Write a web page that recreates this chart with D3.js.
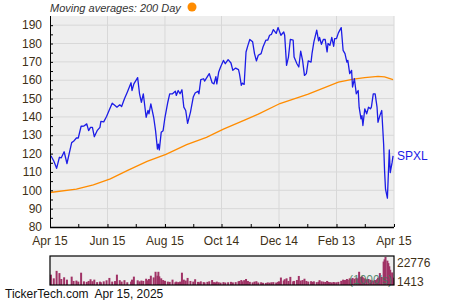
<!DOCTYPE html>
<html>
<head>
<meta charset="utf-8">
<script src="https://cdn.jsdelivr.net/npm/d3@7"></script>
<style>
  body { margin: 0; background: #fff; }
  svg { display: block; font-family: "Liberation Sans", Arial, sans-serif; }
</style>
</head>
<body>
<svg id="chart"></svg>
<script>
// SPXL closes
const priceDates = [
  "2024-04-16","2024-04-19","2024-04-22","2024-04-25","2024-04-27","2024-04-30","2024-05-03","2024-05-08",
  "2024-05-10","2024-05-13","2024-05-15","2024-05-18","2024-05-21","2024-05-24","2024-05-26","2024-05-28",
  "2024-05-30","2024-06-01","2024-06-04","2024-06-07","2024-06-08","2024-06-11","2024-06-14","2024-06-17",
  "2024-06-20","2024-06-23","2024-06-25","2024-06-28","2024-06-30","2024-07-03","2024-07-06","2024-07-10",
  "2024-07-11","2024-07-13","2024-07-17","2024-07-19","2024-07-21","2024-07-23","2024-07-26","2024-07-28",
  "2024-07-29","2024-07-31","2024-08-03","2024-08-05","2024-08-07","2024-08-08","2024-08-09","2024-08-11",
  "2024-08-13","2024-08-15","2024-08-18","2024-08-20","2024-08-23","2024-08-26","2024-08-27","2024-08-29",
  "2024-08-31","2024-09-02","2024-09-04","2024-09-06","2024-09-08","2024-09-11","2024-09-14","2024-09-16",
  "2024-09-19","2024-09-20","2024-09-22","2024-09-25","2024-09-26","2024-09-29","2024-10-01","2024-10-04",
  "2024-10-06","2024-10-08","2024-10-09","2024-10-11","2024-10-13","2024-10-16","2024-10-18","2024-10-21",
  "2024-10-24","2024-10-26","2024-10-29","2024-11-01","2024-11-02","2024-11-04","2024-11-05","2024-11-07",
  "2024-11-09","2024-11-11","2024-11-13","2024-11-16","2024-11-18","2024-11-20","2024-11-22","2024-11-25",
  "2024-11-27","2024-11-30","2024-12-02","2024-12-04","2024-12-06","2024-12-08","2024-12-11","2024-12-13",
  "2024-12-14","2024-12-16","2024-12-19","2024-12-20","2024-12-22","2024-12-24","2024-12-26","2024-12-29",
  "2024-12-30","2025-01-02","2025-01-04","2025-01-06","2025-01-08","2025-01-10","2025-01-12","2025-01-14",
  "2025-01-17","2025-01-18","2025-01-20","2025-01-23","2025-01-25","2025-01-26","2025-01-28","2025-01-30",
  "2025-02-01","2025-02-03","2025-02-04","2025-02-06","2025-02-08","2025-02-10","2025-02-11","2025-02-13",
  "2025-02-15","2025-02-18","2025-02-20","2025-02-22","2025-02-24","2025-02-25","2025-02-27","2025-03-01",
  "2025-03-02","2025-03-04","2025-03-06","2025-03-08","2025-03-09","2025-03-11","2025-03-12","2025-03-13",
  "2025-03-15","2025-03-17","2025-03-19","2025-03-21","2025-03-22","2025-03-24","2025-03-26","2025-03-28",
  "2025-03-29","2025-03-31","2025-04-02","2025-04-04","2025-04-05","2025-04-06","2025-04-08","2025-04-09",
  "2025-04-10","2025-04-11","2025-04-13","2025-04-14"
];
const priceValues = [
  118.8,116,112,118,117.7,121,114.6,126,
  126.7,128.5,128.5,134.9,135,136.2,132.5,134.3,
  134.3,129.2,132.5,134.3,137.6,137.3,140.2,143.9,
  147.5,146.2,145.3,146.6,145.7,149.9,153.5,158.6,
  154.4,158,161.4,152.6,148,152.6,139.8,143.5,
  141.7,147.1,139.8,132.5,122.5,125.2,122,131.6,
  132.5,139.8,148,152.6,152.6,154,151.7,154.4,
  152.6,154.8,145.3,143.5,136.5,142.5,150.8,153,
  154,152.6,160.3,160.8,159.5,162,163.6,158.6,
  158,162,158,164.5,167.2,170.8,169,171.2,
  169.4,165.4,166.6,165.8,163.6,157.2,158.4,157.7,
  175.4,179,182.2,180.9,174.5,170.5,173.6,174.5,
  178.1,181.8,181.8,184.5,185,187.6,185.5,188.7,
  187.3,184.5,186.3,184.5,168.1,172.6,182.2,181.8,
  172.6,169,167.2,175.9,170.8,162.6,163.6,170.5,
  169.9,174.5,180.9,187.3,181.4,183.3,179.6,182.2,
  182.2,175.4,180,179,183.3,178.5,182.7,182.7,
  185.8,188.7,176.3,174.5,169.9,170.8,163.6,165.4,
  156.3,160.8,152.6,154.4,145.3,138.9,140.7,135.3,
  144.4,141.7,145.3,144.4,145.3,152.6,152.6,145.3,
  137.1,140.7,143.5,125.2,110.6,100.6,95.7,108.8,
  122,109.7,115.2,118.8
];
// volume in 1000's, same dates as prices
const volumeValues = [
  9300,6500,12200,10500,6000,7300,5500,7800,
  4500,4800,4000,10800,4200,3800,4500,5800,
  4300,5500,3600,4000,3500,4200,5000,6800,
  4000,4400,9300,5100,4000,5100,3500,4000,
  5500,7800,5000,4200,4800,4500,6200,5000,
  6000,8500,7200,11500,8500,11500,8000,6500,
  5200,4600,4000,3800,5500,3500,4000,3600,
  4000,10800,5500,4800,6800,4500,4000,5800,
  3800,3500,4200,3600,3300,3800,4200,5200,
  3600,3400,4000,3500,3200,3600,3300,3500,
  3800,3400,3600,4200,4500,5200,4200,5100,
  6000,4500,3800,3400,4000,4300,3300,3500,
  3100,3000,3400,3200,3500,3600,3300,3800,
  4200,7100,4800,5800,6500,4500,7600,4200,
  4500,5200,8300,4800,5200,6200,4500,4000,
  4300,3800,4200,3600,3900,5100,4200,4000,
  3700,4500,3800,3600,3400,3700,3300,3500,
  3800,4600,5500,5200,6000,5400,6500,5800,
  6800,6200,7000,6500,11500,7500,8000,7200,
  6500,5800,6000,5400,5000,4800,5200,5800,
  7000,10500,7500,19300,21000,22776,20000,18100,
  15700,13000,11000,7000
];
// 200 day moving average
const maDates = [
  "2024-04-15","2024-05-13","2024-05-31","2024-06-18","2024-07-07","2024-07-27","2024-08-16","2024-09-07",
  "2024-09-28","2024-10-16","2024-11-08","2024-11-22","2024-12-15","2025-01-14","2025-02-15","2025-03-03",
  "2025-03-15","2025-03-29","2025-04-05","2025-04-14"
];
const maValues = [
  98.8,100.6,103.0,106.2,111.0,115.8,119.6,124.9,
  128.9,133.3,138.4,141.5,147.3,152.4,159,160.6,
  161.4,162.1,161.8,160.3
];
const xTickDates = ["2024-04-15","2024-06-15","2024-08-15","2024-10-14","2024-12-14","2025-02-13","2025-04-15"];
const xTickLabels = ["Apr 15","Jun 15","Aug 15","Oct 14","Dec 14","Feb 13","Apr 15"];
const xMinorDates = ["2024-05-15","2024-07-15","2024-09-14","2024-11-14","2025-01-13","2025-03-15"];
const yTicks = [80, 90, 100, 110, 120, 130, 140, 150, 160, 170, 180, 190];
const volumeLabels = [22776, 1413];

const parse = d3.timeParse("%Y-%m-%d");
const W = 450, H = 300;
const plot = { left: 50, right: 394, top: 16, bottom: 227 };
const vol = { top: 256, bottom: 285 };
const textColor = "#403016";

const svg = d3.select("#chart").attr("width", W).attr("height", H);

const xScale = d3.scaleTime()
  .domain([parse("2024-04-15"), parse("2025-04-15")])
  .range([plot.left, plot.right]);
const yScale = d3.scaleLinear().domain([80, 195]).range([plot.bottom, plot.top]);
const vScale = d3.scaleLinear().domain([1413, 22776]).range([vol.bottom, vol.top + 1]);

const prices = priceDates.map((d, i) => ({ date: parse(d), value: priceValues[i], volume: volumeValues[i] }));
const ma = maDates.map((d, i) => ({ date: parse(d), value: maValues[i] }));

// price panel background + grid
svg.append("rect")
  .attr("x", plot.left).attr("y", plot.top)
  .attr("width", plot.right - plot.left).attr("height", plot.bottom - plot.top)
  .attr("fill", "#eeeeee");

svg.append("g")
  .selectAll("line")
  .data(yTicks.filter(d => d > 80))
  .join("line")
  .attr("x1", plot.left).attr("x2", plot.right)
  .attr("y1", d => yScale(d)).attr("y2", d => yScale(d))
  .attr("stroke", "#d8d8d8").attr("stroke-width", 1);

svg.append("g")
  .selectAll("line")
  .data(xTickDates.slice(1))
  .join("line")
  .attr("x1", d => xScale(parse(d))).attr("x2", d => xScale(parse(d)))
  .attr("y1", plot.top).attr("y2", plot.bottom)
  .attr("stroke", "#d8d8d8").attr("stroke-width", 1);

// lines
const line = d3.line().x(d => xScale(d.date)).y(d => yScale(d.value));

svg.append("path")
  .datum(ma)
  .attr("d", line)
  .attr("fill", "none")
  .attr("stroke", "#ff8c00")
  .attr("stroke-width", 1.3);

svg.append("path")
  .datum(prices)
  .attr("d", line)
  .attr("fill", "none")
  .attr("stroke", "#1c1ce6")
  .attr("stroke-width", 1.3)
  .attr("stroke-linejoin", "round");

// axes
const yAxis = d3.axisRight(yScale)
  .tickValues(d3.range(80, 195, 5))
  .tickSize(3)
  .tickFormat("");
svg.append("g")
  .attr("transform", `translate(${plot.left},0)`)
  .call(yAxis)
  .call(g => g.select(".domain").attr("d", `M0.5,${plot.top}V${plot.bottom}`).attr("stroke", "#000"));

svg.append("g")
  .selectAll("text")
  .data(yTicks)
  .join("text")
  .attr("x", 42)
  .attr("y", d => yScale(d))
  .attr("dy", "0.35em")
  .attr("text-anchor", "end")
  .attr("font-size", 12)
  .attr("fill", textColor)
  .text(d => d);

const xAxis = d3.axisTop(xScale)
  .tickValues(xTickDates.concat(xMinorDates).map(parse))
  .tickSize(3)
  .tickFormat("");
svg.append("g")
  .attr("transform", `translate(0,${plot.bottom})`)
  .call(xAxis)
  .call(g => g.select(".domain").attr("d", `M${plot.left},0.5H${plot.right}`).attr("stroke", "#000").attr("stroke-width", 1.5));

svg.append("g")
  .selectAll("text")
  .data(xTickDates)
  .join("text")
  .attr("x", (d, i) => xScale(parse(d)))
  .attr("y", 245)
  .attr("text-anchor", "middle")
  .attr("font-size", 12)
  .attr("fill", textColor)
  .text((d, i) => xTickLabels[i]);

// series label
svg.append("text")
  .attr("x", 397)
  .attr("y", yScale(priceValues[priceValues.length - 1]))
  .attr("dy", "0.35em")
  .attr("font-size", 12)
  .attr("fill", "#1c1ce6")
  .text("SPXL");

// volume panel
svg.append("rect")
  .attr("x", plot.left).attr("y", vol.top)
  .attr("width", plot.right - plot.left).attr("height", vol.bottom - vol.top)
  .attr("fill", "#eeeeee");

svg.append("g")
  .selectAll("rect")
  .data(prices)
  .join("rect")
  .attr("x", d => xScale(d.date) - 1)
  .attr("width", 2)
  .attr("y", d => vScale(d.volume))
  .attr("height", d => vol.bottom - vScale(d.volume))
  .attr("fill", "#a03366");

svg.append("text")
  .attr("x", 392)
  .attr("y", vol.bottom - 5)
  .attr("dy", "0.35em")
  .attr("text-anchor", "end")
  .attr("font-size", 12)
  .attr("fill", "#3f7a5e")
  .attr("opacity", 0.85)
  .text("(1000's)");

svg.append("rect")
  .attr("x", plot.left).attr("y", vol.top)
  .attr("width", plot.right - plot.left).attr("height", vol.bottom - vol.top)
  .attr("fill", "none")
  .attr("stroke", "#000")
  .attr("stroke-width", 1.2);

svg.append("g")
  .selectAll("text")
  .data(volumeLabels)
  .join("text")
  .attr("x", 397)
  .attr("y", (d, i) => i === 0 ? vScale(d) + 6 : vScale(d) - 3)
  .attr("dy", "0.35em")
  .attr("font-size", 12)
  .attr("fill", textColor)
  .text(d => d);

// header and footer
svg.append("text")
  .attr("x", 50)
  .attr("y", 12)
  .attr("font-size", 11)
  .attr("font-style", "italic")
  .attr("fill", "#333")
  .text("Moving averages: 200 Day");

svg.append("circle")
  .attr("cx", 192).attr("cy", 7).attr("r", 4.5)
  .attr("fill", "#ff8c00");

svg.append("text")
  .attr("x", 5)
  .attr("y", 298)
  .attr("font-size", 12)
  .attr("fill", "#111")
  .style("white-space", "pre")
  .text("TickerTech.com  Apr 15, 2025");
</script>
</body>
</html>
